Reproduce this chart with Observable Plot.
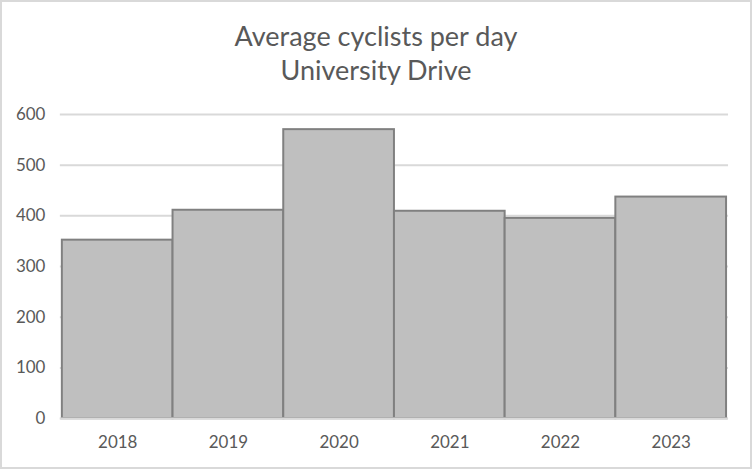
<!DOCTYPE html>
<html>
<head>
<meta charset="utf-8">
<script src="https://cdn.jsdelivr.net/npm/d3@7"></script>
<script src="https://cdn.jsdelivr.net/npm/@observablehq/plot@0.6"></script>
<style>
  body { margin: 0; background: #fff; }
  #frame { position: relative; width: 752px; height: 469px; box-sizing: border-box; border: 2px solid #d9d9d9; background: #fff; overflow: hidden; }
  #title { position: absolute; top: 17px; left: 0; width: 100%; text-align: center; font-family: Lato, "Open Sans", sans-serif; font-size: 27px; line-height: 34px; color: #595959; }
  #chart { position: absolute; top: 88px; left: -2px; }
</style>
</head>
<body>
<div id="frame">
  <div id="title">Average cyclists per day<br>University Drive</div>
  <div id="chart"></div>
</div>
<script>
const years = ["2018", "2019", "2020", "2021", "2022", "2023"];
const cyclists = [352, 411, 570, 409, 395, 437];
const yTicks = [0, 100, 200, 300, 400, 500, 600];

const data = years.map((y, i) => ({year: y, value: cyclists[i]}));

const plot = Plot.plot({
  width: 752,
  height: 377,
  marginTop: 24,
  marginBottom: 48,
  marginLeft: 60,
  marginRight: 22,
  style: { fontFamily: "Lato, 'Open Sans', sans-serif", fontSize: "17px", color: "#595959", background: "transparent" },
  x: { domain: years, padding: 0, label: null },
  y: { domain: [0, 600], ticks: yTicks, label: null },
  marks: [
    Plot.gridY(yTicks, { stroke: "#d9d9d9", strokeOpacity: 1, strokeWidth: 2 }),
    Plot.barY(data, { x: "year", y: "value", fill: "#bfbfbf", stroke: "#808080", strokeWidth: 2, inset: 0 }),
    Plot.ruleY([0], { stroke: "#d9d9d9", strokeWidth: 2 }),
    Plot.axisY({ ticks: yTicks, tickSize: 0, tickPadding: 15, fill: "#595959" }),
    Plot.axisX({ tickSize: 0, tickPadding: 17, fill: "#595959" })
  ]
});
document.getElementById("chart").appendChild(plot);
</script>
</body>
</html>
